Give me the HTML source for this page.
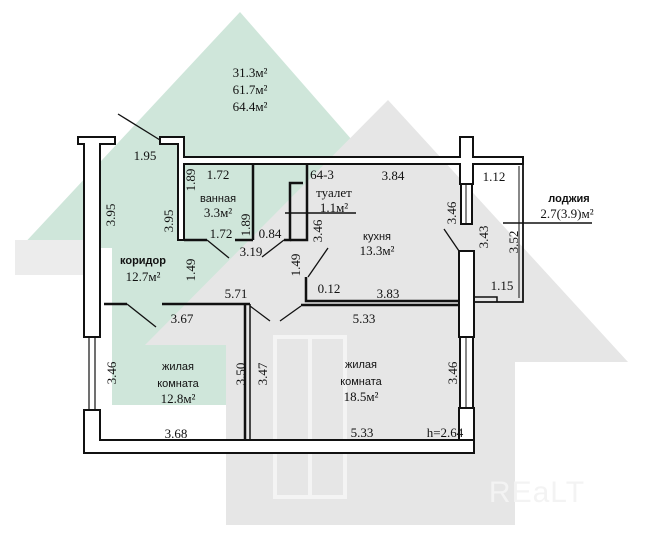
<!DOCTYPE html>
<html><head><meta charset="utf-8"><style>
html,body{margin:0;padding:0;background:#fff;}
svg{display:block;}
text{font-family:"Liberation Serif",serif;font-size:13px;fill:#111;text-anchor:middle;}
</style></head><body>
<svg width="645" height="536" viewBox="0 0 645 536" xmlns="http://www.w3.org/2000/svg">
<!-- watermark -->
<polygon points="240,12 20,248 112,248 112,405 226,405 226,300 352,140" fill="#cfe6da"/>
<polygon points="388,100 145,345 226,345 226,525 515,525 515,362 628,362" fill="#e6e6e6"/>
<polygon points="15,240 100,240 100,275 15,275" fill="#ececec"/>
<rect x="275" y="337" width="70" height="160" fill="none" stroke="#f4f4f4" stroke-width="4"/>
<line x1="310" y1="337" x2="310" y2="497" stroke="#f4f4f4" stroke-width="4"/>
<text x="537" y="502" style="font-family:'Liberation Sans',sans-serif;font-size:30px;fill:#f3f3f3;letter-spacing:1px">REaLT</text>

<g fill="#fff" stroke="#111" stroke-width="2">
<path d="M78,137 H115 V144 H100 V337 H84 V144 H78 Z"/>
<rect x="84" y="410" width="16" height="43"/>
<line x1="89" y1="337" x2="89" y2="410" stroke-width="1.2"/>
<line x1="95" y1="337" x2="95" y2="410" stroke-width="1.2"/>
<path d="M160,137 H184 V157 H460 V137 H473 V157 H523 V164 H473 V184 H460 V164 H184 V240 H178 V144 H160 Z"/>
<rect x="461" y="184" width="11" height="40"/>
<line x1="466" y1="184" x2="466" y2="224" stroke-width="1"/>
<path d="M459,251 H474 V337 H459 Z"/>
<rect x="459" y="408" width="15" height="45"/>
<rect x="460" y="337" width="13" height="71"/>
<line x1="466" y1="337" x2="466" y2="408" stroke-width="1"/>
<path d="M84,453 H474 V440 H100 V410 H84 Z"/>
</g>
<g stroke="#111" stroke-width="2.5" fill="none">
<line x1="184" y1="240" x2="207" y2="240"/>
<line x1="253" y1="164" x2="253" y2="240"/>
<line x1="235" y1="240" x2="253" y2="240"/>
<polyline points="284,240 290,240 290,183 303,183"/>
<polyline points="290,240 307,240 307,164"/>
<polyline points="306,277 306,301 459,301"/>
<line x1="301" y1="305" x2="459" y2="305"/>
<line x1="104" y1="304" x2="127" y2="304"/>
<line x1="162" y1="304" x2="250" y2="304"/>
<line x1="245" y1="304" x2="245" y2="440"/>
<line x1="250" y1="304" x2="250" y2="440" stroke-width="1.5"/>
<polyline points="523,164 523,302 474,302" stroke-width="1.8"/>
<line x1="519" y1="166" x2="519" y2="298" stroke-width="1"/>
<polyline points="474,297 497,297 497,302" stroke-width="1.5"/>
</g>
<g stroke="#111" stroke-width="1.3">
<line x1="118" y1="114" x2="160" y2="140"/>
<line x1="207" y1="240" x2="229" y2="258"/>
<line x1="284" y1="240" x2="262" y2="257"/>
<line x1="328" y1="248" x2="308" y2="277"/>
<line x1="444" y1="229" x2="459" y2="251"/>
<line x1="127" y1="304" x2="156" y2="327"/>
<line x1="250" y1="306" x2="270" y2="321"/>
<line x1="301" y1="306" x2="280" y2="321"/>
<line x1="285" y1="213" x2="356" y2="213" stroke-width="1.6"/>
<line x1="503" y1="223" x2="592" y2="223" stroke-width="1.6"/>
</g>
<g>
<text x="250" y="77">31.3м²</text>
<text x="250" y="94">61.7м²</text>
<text x="250" y="111">64.4м²</text>
<text x="145" y="160">1.95</text>
<text x="322" y="179">64-3</text>
<text x="393" y="180">3.84</text>
<text x="494" y="181">1.12</text>
<text x="218" y="179">1.72</text>
<text x="334" y="197">туалет</text>
<text x="334" y="212">1.1м²</text>
<text x="218" y="202" style="font-family:'Liberation Sans',sans-serif;font-size:11px">ванная</text>
<text x="218" y="217">3.3м²</text>
<text x="221" y="238">1.72</text>
<text x="270" y="238">0.84</text>
<text x="251" y="256">3.19</text>
<text x="377" y="240" style="font-family:'Liberation Sans',sans-serif;font-size:11px">кухня</text>
<text x="377" y="255">13.3м²</text>
<text x="569" y="202" style="font-family:'Liberation Sans',sans-serif;font-size:11px;font-weight:bold">лоджия</text>
<text x="567" y="218">2.7(3.9)м²</text>
<text x="143" y="264" style="font-family:'Liberation Sans',sans-serif;font-size:11px;font-weight:bold">коридор</text>
<text x="143" y="281">12.7м²</text>
<text x="329" y="293">0.12</text>
<text x="388" y="298">3.83</text>
<text x="502" y="290">1.15</text>
<text x="236" y="298">5.71</text>
<text x="182" y="323">3.67</text>
<text x="364" y="323">5.33</text>
<text x="178" y="370" style="font-family:'Liberation Sans',sans-serif;font-size:11px">жилая</text>
<text x="178" y="387" style="font-family:'Liberation Sans',sans-serif;font-size:11px">комната</text>
<text x="178" y="403">12.8м²</text>
<text x="361" y="368" style="font-family:'Liberation Sans',sans-serif;font-size:11px">жилая</text>
<text x="361" y="385" style="font-family:'Liberation Sans',sans-serif;font-size:11px">комната</text>
<text x="361" y="401">18.5м²</text>
<text x="176" y="438">3.68</text>
<text x="362" y="437">5.33</text>
<text x="445" y="437">h=2.64</text>
<g>
<text transform="translate(115,215) rotate(-90)">3.95</text>
<text transform="translate(173,221) rotate(-90)">3.95</text>
<text transform="translate(195,180) rotate(-90)">1.89</text>
<text transform="translate(250,225) rotate(-90)">1.89</text>
<text transform="translate(322,231) rotate(-90)">3.46</text>
<text transform="translate(456,213) rotate(-90)">3.46</text>
<text transform="translate(488,237) rotate(-90)">3.43</text>
<text transform="translate(518,242) rotate(-90)">3.52</text>
<text transform="translate(195,270) rotate(-90)">1.49</text>
<text transform="translate(300,265) rotate(-90)">1.49</text>
<text transform="translate(116,373) rotate(-90)">3.46</text>
<text transform="translate(245,374) rotate(-90)">3.50</text>
<text transform="translate(267,374) rotate(-90)">3.47</text>
<text transform="translate(457,373) rotate(-90)">3.46</text>
</g>
</g>
</svg>
</body></html>
